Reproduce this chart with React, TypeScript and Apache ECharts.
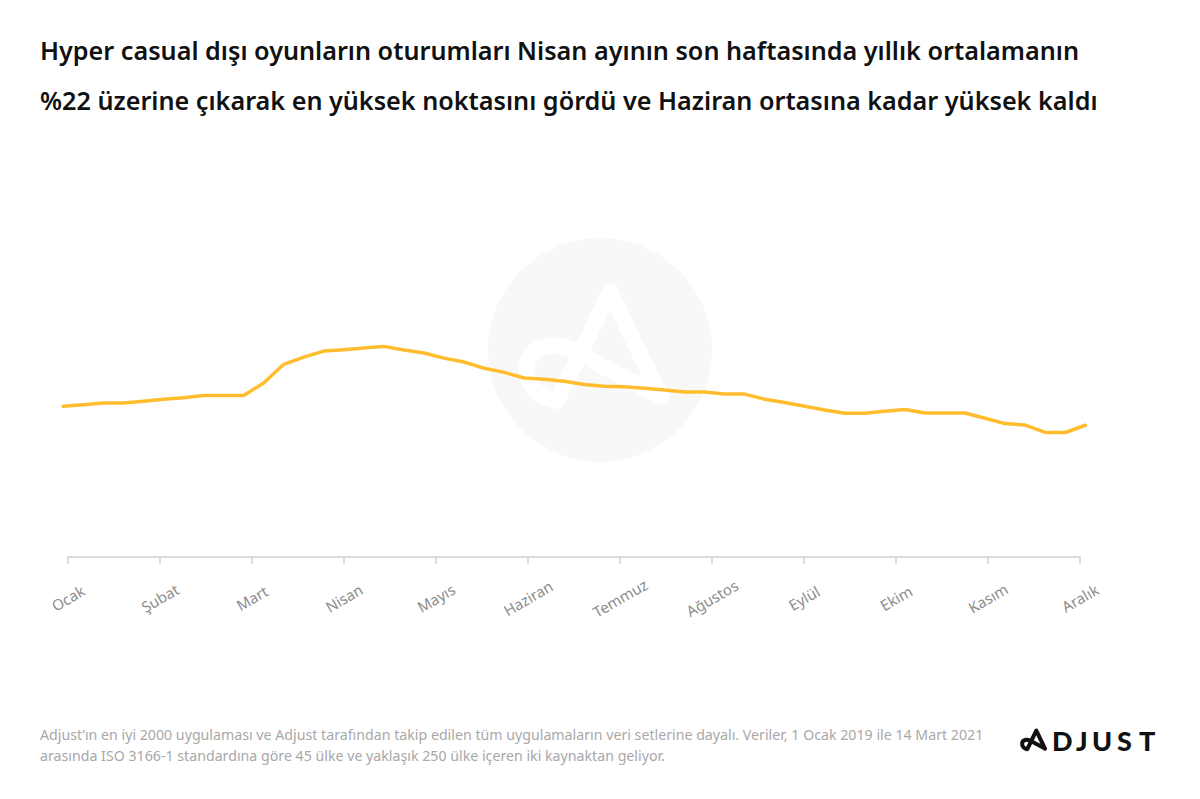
import React, { useEffect, useRef } from "react";
import * as echarts from "echarts";

const months = ["Ocak", "Şubat", "Mart", "Nisan", "Mayıs", "Haziran", "Temmuz", "Ağustos", "Eylül", "Ekim", "Kasım", "Aralık"];

const weeks = [
  "1", "2", "3", "4", "5", "6", "7", "8", "9", "10", "11", "12", "13",
  "14", "15", "16", "17", "18", "19", "20", "21", "22", "23", "24", "25", "26",
  "27", "28", "29", "30", "31", "32", "33", "34", "35", "36", "37", "38", "39",
  "40", "41", "42", "43", "44", "45", "46", "47", "48", "49", "50", "51", "52",
];

// session index, yearly average = 100
const sessions = [
  93.0, 93.7, 94.6, 94.6, 95.4, 96.4, 97.1, 98.2, 98.2, 98.2,
  104.3, 113.3, 116.8, 119.7, 120.4, 121.2, 122.0, 120.2, 118.8, 116.3,
  114.4, 111.4, 109.4, 106.7, 106.1, 105.1, 103.5, 102.7, 102.5, 101.7,
  100.9, 99.9, 99.9, 98.9, 98.9, 96.4, 94.8, 93.0, 91.2, 89.6,
  89.6, 90.6, 91.4, 89.7, 89.7, 89.7, 87.2, 84.6, 83.9, 80.3,
  80.3, 83.8,
];

const titleText =
  "Hyper casual dışı oyunların oturumları Nisan ayının son haftasında yıllık ortalamanın\n%22 üzerine çıkarak en yüksek noktasını gördü ve Haziran ortasına kadar yüksek kaldı";
const footLine1 =
  "Adjust’ın en iyi 2000 uygulaması ve Adjust tarafından takip edilen tüm uygulamaların veri setlerine dayalı. Veriler, 1 Ocak 2019 ile 14 Mart 2021";
const footLine2 =
  "arasında ISO 3166-1 standardına göre 45 ülke ve yaklaşık 250 ülke içeren iki kaynaktan geliyor.";
const brandLetters = ["D", "J", "U", "S", "T"];

const LOGO_D =
  "M141 112 L90 7 L37 116 C20 113 4 100 7 79 C10 60 35 57 52 65 L141 112";

let registered = false;

export default function App() {
  const ref = useRef<HTMLDivElement>(null);

  useEffect(() => {
    document.body.style.margin = "0";
    if (!ref.current) return;
    if (!registered) {
      echarts.graphic.registerShape("logo", echarts.graphic.extendPath(LOGO_D, {}));
      registered = true;
    }
    const chart = echarts.init(ref.current, null, { renderer: "svg" });
    const font = "'Noto Sans', Lato, sans-serif";
    const brandFont = "Lato, 'Noto Sans', sans-serif";
    const letterX = [1052, 1076, 1092, 1117, 1139];

    chart.setOption({
      animation: false,
      backgroundColor: "#ffffff",
      title: {
        text: titleText,
        left: 40,
        top: 25,
        padding: 0,
        textStyle: {
          fontFamily: font,
          fontSize: 25.2,
          fontWeight: 600,
          color: "#111111",
          lineHeight: 50,
        },
      },
      graphic: [
        {
          type: "circle",
          z: 0,
          shape: { cx: 600, cy: 350, r: 112 },
          style: { fill: "#f8f8f8" },
        },
        {
          type: "logo",
          z: 1,
          x: 520,
          y: 285,
          style: { fill: "none", stroke: "#ffffff", lineWidth: 16, lineCap: "round", lineJoin: "round" },
        },
        {
          type: "text",
          x: 40,
          y: 734,
          style: { text: footLine1, fill: "#a8a8a8", fontSize: 14.2, fontFamily: font, verticalAlign: "middle" },
        },
        {
          type: "text",
          x: 40,
          y: 755,
          style: { text: footLine2, fill: "#a8a8a8", fontSize: 14.2, fontFamily: font, verticalAlign: "middle" },
        },
        {
          type: "logo",
          x: 1021,
          y: 729.5,
          scaleX: 0.17,
          scaleY: 0.17,
          style: { fill: "none", stroke: "#111111", lineWidth: 24, lineCap: "round", lineJoin: "round" },
        },
        ...brandLetters.map((l, i) => ({
          type: "text",
          x: letterX[i],
          y: 740,
          style: {
            text: l,
            fill: "#111111",
            fontSize: 27,
            fontWeight: 900,
            fontFamily: brandFont,
            verticalAlign: "middle",
          },
        })),
      ],
      grid: [
        { left: 63.3, right: 114.7, top: 144, bottom: 242 },
        { left: 68, right: 120, top: 144, bottom: 242 },
      ],
      xAxis: [
        {
          type: "category",
          gridIndex: 0,
          data: weeks,
          boundaryGap: false,
          show: false,
        },
        {
          type: "category",
          gridIndex: 1,
          data: months,
          boundaryGap: false,
          axisLine: { lineStyle: { color: "#d0d0d0", width: 1.5 } },
          axisTick: { show: true, length: 7, lineStyle: { color: "#d0d0d0", width: 1.5 } },
          axisLabel: {
            interval: 0,
            rotate: 30,
            align: "center",
            verticalAlign: "middle",
            margin: 41,
            color: "#8c8c8c",
            fontSize: 15,
            fontFamily: font,
          },
        },
      ],
      yAxis: [
        { type: "value", gridIndex: 0, min: 20, max: 220, show: false },
        { type: "value", gridIndex: 1, min: 0, max: 1, show: false },
      ],
      series: [
        {
          type: "line",
          xAxisIndex: 0,
          yAxisIndex: 0,
          data: sessions,
          showSymbol: false,
          symbol: "none",
          z: 5,
          lineStyle: { color: "#ffbd2e", width: 3.5, cap: "round", join: "round" },
        },
      ],
    });
    return () => chart.dispose();
  }, []);

  return <div ref={ref} style={{ width: 1200, height: 799 }} />;
}
